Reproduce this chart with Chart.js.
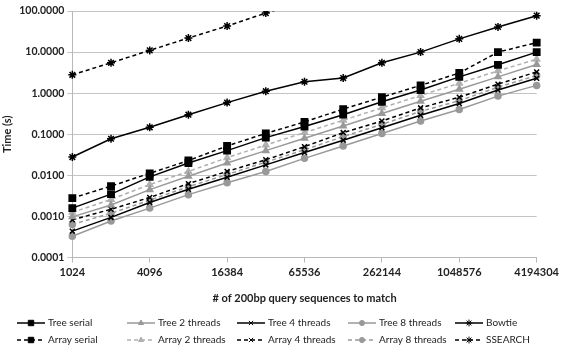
<!DOCTYPE html>
<html>
<head>
<meta charset="utf-8">
<script src="https://cdn.jsdelivr.net/npm/chart.js@4.4.0/dist/chart.umd.min.js"></script>
<style>
  html, body { margin: 0; padding: 0; background: #fff; }
  #wrap { width: 562px; height: 347px; position: relative; }
</style>
</head>
<body>
<div id="wrap"><canvas id="timing-chart"></canvas></div>
<script>
// query counts (2^10 .. 2^22)
const querySizes = ['1024', '2048', '4096', '8192', '16384', '32768', '65536',
  '131072', '262144', '524288', '1048576', '2097152', '4194304'];
const yTicks = [0.0001, 0.001, 0.01, 0.1, 1, 10, 100];

// times in seconds
const treeSerial   = [0.0016, 0.0035, 0.0092, 0.020, 0.040, 0.083, 0.155, 0.30, 0.62, 1.2, 2.5, 4.9, 10];
const tree2        = [0.00098, 0.0019, 0.0045, 0.0095, 0.020, 0.040, 0.080, 0.16, 0.32, 0.64, 1.25, 2.5, 5.0];
const tree4        = [0.00044, 0.00095, 0.0022, 0.0046, 0.0090, 0.018, 0.036, 0.072, 0.145, 0.29, 0.56, 1.2, 2.3];
const tree8        = [0.00033, 0.00078, 0.0016, 0.0034, 0.0066, 0.0125, 0.026, 0.052, 0.105, 0.21, 0.40, 0.85, 1.55];
const bowtie       = [0.028, 0.078, 0.148, 0.30, 0.59, 1.12, 1.9, 2.34, 5.5, 10, 21, 41, 77];
const arraySerial  = [0.0028, 0.0055, 0.0112, 0.023, 0.052, 0.105, 0.20, 0.41, 0.80, 1.55, 3.1, 10, 17];
const array2       = [0.00126, 0.0026, 0.0060, 0.0125, 0.027, 0.055, 0.11, 0.22, 0.44, 0.88, 1.75, 3.5, 6.7];
const array4       = [0.00083, 0.0015, 0.0029, 0.0063, 0.0125, 0.024, 0.050, 0.11, 0.21, 0.44, 0.80, 1.66, 3.3];
const array8       = [0.00064, 0.0012, 0.0025, 0.0053, 0.0105, 0.021, 0.042, 0.088, 0.175, 0.36, 0.66, 1.4, 2.7];
const ssearch      = [2.8, 5.5, 11, 22, 43, 89, 175, null, null, null, null, null, null];

const BLACK = '#000000';
const GRAY = '#999999';
const LIGHT = '#b0b0b0';
const DASH = [4, 3];
const FONT = 'Lato, "Open Sans", sans-serif';

function series(label, data, color, dashed, pointStyle, radius) {
  return {
    label: label,
    data: data,
    borderColor: color,
    backgroundColor: color,
    borderWidth: 1.5,
    borderDash: dashed ? DASH : [],
    pointStyle: pointStyle,
    pointRadius: radius,
    pointBorderWidth: 1.5,
    pointBorderColor: color,
    pointBackgroundColor: color,
    tension: 0,
    fill: false
  };
}

// first row of the legend, then second row
const datasets = [
  series('Tree serial', treeSerial, BLACK, false, 'rect', 4.5),
  series('Tree 2 threads', tree2, GRAY, false, 'triangle', 3.5),
  series('Tree 4 threads', tree4, BLACK, false, 'crossRot', 3.5),
  series('Tree 8 threads', tree8, GRAY, false, 'circle', 3),
  series('Bowtie', bowtie, BLACK, false, 'star', 4),
  series('Array serial', arraySerial, BLACK, true, 'rect', 4.5),
  series('Array 2 threads', array2, LIGHT, true, 'triangle', 3.5),
  series('Array 4 threads', array4, BLACK, true, 'crossRot', 3.5),
  series('Array 8 threads', array8, GRAY, true, 'circle', 3),
  series('SSEARCH', ssearch, BLACK, true, 'star', 4)
];

// two-row legend with fixed columns, drawn under the axis title
const legendCols = [17, 127, 237, 348, 455];
const legendRows = [323, 340];
const gridLegend = {
  id: 'gridLegend',
  afterDraw(chart) {
    const ctx = chart.ctx;
    ctx.save();
    ctx.font = '10px ' + FONT;
    ctx.textBaseline = 'middle';
    chart.data.datasets.forEach((ds, i) => {
      const x = legendCols[i % 5];
      const y = legendRows[Math.floor(i / 5)];
      ctx.strokeStyle = ds.borderColor;
      ctx.fillStyle = ds.borderColor;
      ctx.lineWidth = 1.5;
      ctx.setLineDash(ds.borderDash);
      ctx.beginPath();
      ctx.moveTo(x, y);
      ctx.lineTo(x + 28, y);
      ctx.stroke();
      ctx.setLineDash([]);
      ctx.lineWidth = 1;
      Chart.helpers.drawPoint(ctx, {
        pointStyle: ds.pointStyle,
        radius: ds.pointRadius * 0.85,
        rotation: 0,
        borderWidth: 1
      }, x + 14, y);
      ctx.fillStyle = '#222';
      ctx.fillText(ds.label, x + 31, y);
    });
    ctx.restore();
  }
};

const ctx = document.getElementById('timing-chart').getContext('2d');

const timingChart = new Chart(ctx, {
  type: 'line',
  data: {
    labels: querySizes,
    datasets: datasets
  },
  options: {
    responsive: true,
    maintainAspectRatio: false,
    animation: false,
    layout: {
      padding: { top: 11, right: 20, bottom: 42, left: 1 }
    },
    scales: {
      x: {
        type: 'category',
        offset: false,
        border: { color: '#b8b8b8', width: 1 },
        grid: {
          drawOnChartArea: false,
          color: '#b8b8b8',
          tickLength: 5
        },
        ticks: {
          autoSkip: false,
          maxRotation: 0,
          color: '#222',
          font: { family: FONT, size: 11, weight: 'bold' },
          padding: 3,
          callback: function (value, index) {
            return index % 2 === 0 ? querySizes[index] : null;
          }
        },
        title: {
          display: true,
          text: '# of 200bp query sequences to match',
          color: '#222',
          font: { family: FONT, size: 11, weight: 'bold' },
          padding: { top: 10, bottom: 0 }
        }
      },
      y: {
        type: 'logarithmic',
        min: 0.0001,
        max: 100,
        border: { color: '#b8b8b8', width: 1 },
        grid: {
          color: '#c4c4c4',
          lineWidth: 1,
          tickLength: 5
        },
        afterBuildTicks: function (scale) {
          scale.ticks = yTicks.map(v => ({ value: v }));
        },
        ticks: {
          color: '#222',
          font: { family: FONT, size: 10.5, weight: 'bold' },
          padding: 3,
          callback: function (value) {
            return Number(value).toFixed(4);
          }
        },
        title: {
          display: true,
          text: 'Time (s)',
          color: '#222',
          font: { family: FONT, size: 11, weight: 'bold' },
          padding: { top: 0, bottom: 2 }
        }
      }
    },
    plugins: {
      legend: { display: false },
      tooltip: { enabled: false }
    }
  },
  plugins: [gridLegend]
});
</script>
</body>
</html>
